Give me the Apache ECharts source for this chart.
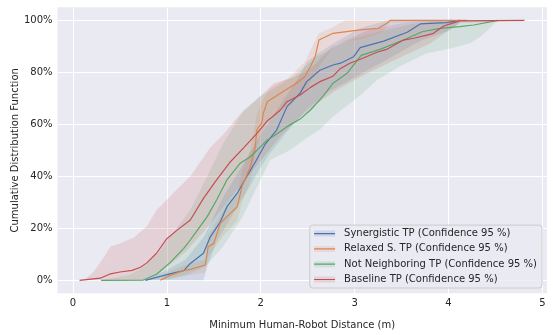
<!DOCTYPE html>
<html><head><meta charset="utf-8">
<script src="https://cdn.jsdelivr.net/npm/echarts@6/dist/echarts.min.js"></script>
<style>html,body{margin:0;padding:0;background:#fff}#c{width:553px;height:335px}</style>
</head><body><div id="c"></div><script>
// ---- data ----
const seriesNames = ['Synergistic TP (Confidence 95 %)','Relaxed S. TP (Confidence 95 %)','Not Neighboring TP (Confidence 95 %)','Baseline TP (Confidence 95 %)'];
const xTicks = [0,1,2,3,4,5];
const yTicks = [0,20,40,60,80,100];

const synX = [0.77,1.0,1.18,1.25,1.39,1.46,1.57,1.64,1.75,1.85,1.95,2.05,2.17,2.28,2.42,2.49,2.63,2.77,2.85,2.99,3.06,3.31,3.56,3.70,3.98,4.12];
const synY = [0,2.2,3.7,6.5,10.4,16.5,22.5,28.3,33.5,39.8,46,52.5,57.8,66.8,72,76.4,80.8,82.8,83.5,86,89.5,92,95.4,98.6,99.1,100];

const relX = [0.93,1.04,1.18,1.25,1.41,1.44,1.50,1.57,1.64,1.75,1.80,1.89,1.94,1.96,2.01,2.03,2.07,2.21,2.38,2.47,2.53,2.58,2.62,2.77,3.06,3.25,3.34,3.38,4.2];
const relY = [0,2,3.7,4.2,5.9,12.9,14.2,21.9,24.5,28.3,36,43.7,51,58,60.4,64.5,68.7,71.9,75.8,78.3,82.2,86,92.4,95,96.3,96.9,98.8,100,100];

const notX = [0.30,0.75,0.89,1.04,1.18,1.25,1.32,1.43,1.53,1.64,1.78,1.89,1.96,2.07,2.14,2.28,2.42,2.53,2.67,2.77,2.92,3.07,3.27,3.52,3.72,3.91,4.12,4.27,4.53];
const notY = [0,0.1,2.3,7,12.3,15.5,19,24.5,30.9,38.6,45,47.5,50,54,55.5,59.1,62,65.5,71,75.8,79.6,86.5,88.8,92.4,95.6,96.9,97.6,98.2,100];

const baseX = [0.07,0.29,0.40,0.50,0.63,0.72,0.79,0.89,1.0,1.11,1.25,1.39,1.53,1.67,1.82,1.96,2.07,2.21,2.28,2.42,2.53,2.63,2.77,2.85,2.95,3.06,3.24,3.34,3.52,3.63,3.77,3.84,3.95,4.02,4.12,4.81];
const baseY = [0,0.8,2.5,3.2,3.8,5,6.8,10.4,16,19.3,23.2,31.5,38.6,45.3,51,56.5,61.3,65.5,68.7,71.3,74.2,76.4,78.5,81.5,83.5,85,87.7,88.8,92.4,93.1,94.3,95,97.8,98.6,99.8,100];

// confidence bands [x, %]
const synUpper = [[0.77,0],[1.0,4],[1.2,8],[1.4,17],[1.6,32],[1.8,44],[2.0,56],[2.2,67],[2.4,78],[2.49,84],[2.6,87],[2.77,91],[3.06,97],[3.31,99.5],[3.5,100],[4.12,100]];
const synLower = [[0.77,0],[1.39,0],[1.43,5],[1.53,15],[1.64,21.5],[1.78,30],[1.89,36.5],[1.99,43],[2.1,49],[2.3,58],[2.5,66],[2.7,72],[2.9,76],[3.1,80],[3.4,86],[3.7,92],[4.0,96],[4.12,99]];
const relUpper = [[0.93,0],[1.0,3],[1.2,6],[1.41,8],[1.44,17],[1.6,27],[1.75,33],[1.8,42],[1.89,50],[1.96,64],[2.03,70],[2.1,74],[2.3,78],[2.47,84],[2.55,90],[2.62,95],[2.75,97],[2.9,100],[4.2,100]];
const relLower = [[0.93,0],[1.41,3],[1.44,9],[1.6,17],[1.75,23],[1.8,30],[1.89,38],[1.96,52],[2.03,58],[2.1,63],[2.3,67],[2.5,74],[2.62,82],[2.8,91],[3.1,93],[3.3,95.5],[3.38,99],[4.2,100]];
const notUpper = [[0.30,0],[0.6,2],[0.75,5],[0.9,10],[1.04,17],[1.25,27],[1.43,40],[1.6,52.7],[1.71,59],[1.82,65.5],[2.0,71],[2.2,75],[2.4,80],[2.6,86],[2.8,90],[3.0,93],[3.3,96],[3.6,98.5],[3.9,100],[4.53,100]];
const notLower = [[0.30,0],[1.0,0],[1.2,2],[1.4,5],[1.6,13],[1.8,24],[1.99,38],[2.1,46.3],[2.17,47.5],[2.31,50],[2.46,54],[2.63,58],[2.77,63],[2.95,68],[3.09,72],[3.24,77],[3.48,82.2],[3.77,87.3],[4.02,89.2],[4.23,91.2],[4.34,93.7],[4.44,96.9],[4.51,99.5],[4.53,100]];
const baseUpper = [[0.07,0],[0.13,0.5],[0.22,3.3],[0.33,9],[0.40,13],[0.50,14.2],[0.65,16.5],[0.79,21],[0.89,27],[1.0,31],[1.11,35],[1.25,40],[1.46,51],[1.60,56],[1.78,64],[1.85,66],[1.99,70.6],[2.14,75.8],[2.35,78],[2.53,81.5],[2.77,90],[3.13,96],[3.48,98.8],[3.8,100],[4.81,100]];
const baseLower = [[0.07,0],[0.75,0],[0.9,2],[1.0,5],[1.2,11],[1.4,19],[1.6,28],[1.8,37],[2.0,46],[2.2,55],[2.4,62],[2.6,68],[2.8,73],[3.1,79],[3.5,86],[3.8,91],[4.0,96],[4.12,99],[4.81,100]];

// ---- style ----
const colors = ['#4C72B0','#DD8452','#55A868','#C44E52'];
const bandColors = ['rgba(76,114,176,0.16)','rgba(221,132,82,0.16)','rgba(85,168,104,0.16)','rgba(196,78,82,0.16)'];
const FONT = 'DejaVu Sans';
const TXT = '#262626';

const lines = [[synX,synY],[relX,relY],[notX,notY],[baseX,baseY]];
const bands = [[synUpper,synLower],[relUpper,relLower],[notUpper,notLower],[baseUpper,baseLower]];
const bandNames = seriesNames.map((n,i)=>'band'+i);

const series = [];
bands.forEach((b,i)=>{
  series.push({
    type:'custom', name: bandNames[i], silent:true, z:2,
    itemStyle:{color:bandColors[i]},
    data:[[0,0]],
    renderItem:(params, api)=>{
      const pts = b[0].map(p=>api.coord(p)).concat(b[1].slice().reverse().map(p=>api.coord(p)));
      return {type:'polygon', shape:{points:pts}, style:{fill:bandColors[i]}};
    }
  });
});
lines.forEach((l,i)=>{
  series.push({
    type:'line', name: seriesNames[i], symbol:'none', z:3, silent:true,
    data: l[0].map((x,k)=>[x, l[1][k]]),
    lineStyle:{width:1.2, color:colors[i]}, itemStyle:{color:colors[i]}
  });
});

const legendCommon = {
  orient:'vertical', right:11, bottom:47, itemWidth:21, itemHeight:12, itemGap:3.3,
  padding:[2.5,5,2.5,4.3], selectedMode:false,
  textStyle:{fontFamily:FONT, fontSize:10, color:TXT, padding:[0,0,0,4]}
};

const option = {
  animation:false,
  textStyle:{fontFamily:FONT},
  grid:{left:57.5, right:6, top:7.3, bottom:41.7, containLabel:false, outerBoundsMode:'none',
        show:true, backgroundColor:'#EAEAF2', borderWidth:0},
  xAxis:{
    type:'value', min:-0.165, max:5.05, splitNumber:5,
    axisLine:{show:false}, axisTick:{show:false},
    axisLabel:{margin:5, fontSize:10, color:TXT, fontFamily:FONT,
      formatter:v=> xTicks.includes(v) ? String(v) : ''},
    splitLine:{show:true, showMinLine:false, showMaxLine:false, lineStyle:{color:'#ffffff', width:1}},
    name:'Minimum Human-Robot Distance (m)', nameLocation:'middle', nameGap:27, nameMoveOverlap:false,
    nameTextStyle:{fontSize:10, color:TXT, fontFamily:FONT}
  },
  yAxis:{
    type:'value', min:-5, max:105, splitNumber:5,
    axisLine:{show:false}, axisTick:{show:false},
    axisLabel:{margin:5, fontSize:10, color:TXT, fontFamily:FONT,
      formatter:v=> yTicks.includes(v) ? v + '%' : ''},
    splitLine:{show:true, showMinLine:false, showMaxLine:false, lineStyle:{color:'#ffffff', width:1}},
    name:'Cumulative Distribution Function', nameLocation:'middle', nameGap:37, nameMoveOverlap:false,
    nameTextStyle:{fontSize:10, color:TXT, fontFamily:FONT}
  },
  legend:[
    Object.assign({}, legendCommon, {
      z:5, data:bandNames,
      icon:'path://M0,0H21V0.01H0Z M0,3H21V9H0Z M0,11.99H21V12H0Z',
      formatter:n=>seriesNames[bandNames.indexOf(n)],
      textStyle:Object.assign({}, legendCommon.textStyle, {color:'rgba(0,0,0,0)'}),
      backgroundColor:'rgba(234,234,242,0.8)', borderColor:'#cccccc', borderWidth:1, borderRadius:3
    }),
    Object.assign({}, legendCommon, {
      z:6, data:seriesNames, backgroundColor:'rgba(0,0,0,0)', borderWidth:0,
      icon:'path://M0,0H21V0.01H0Z M0,5.4H21V6.6H0Z M0,11.99H21V12H0Z'
    })
  ],
  series
};
const chart = echarts.init(document.getElementById('c'));
chart.setOption(option);
</script></body></html>
